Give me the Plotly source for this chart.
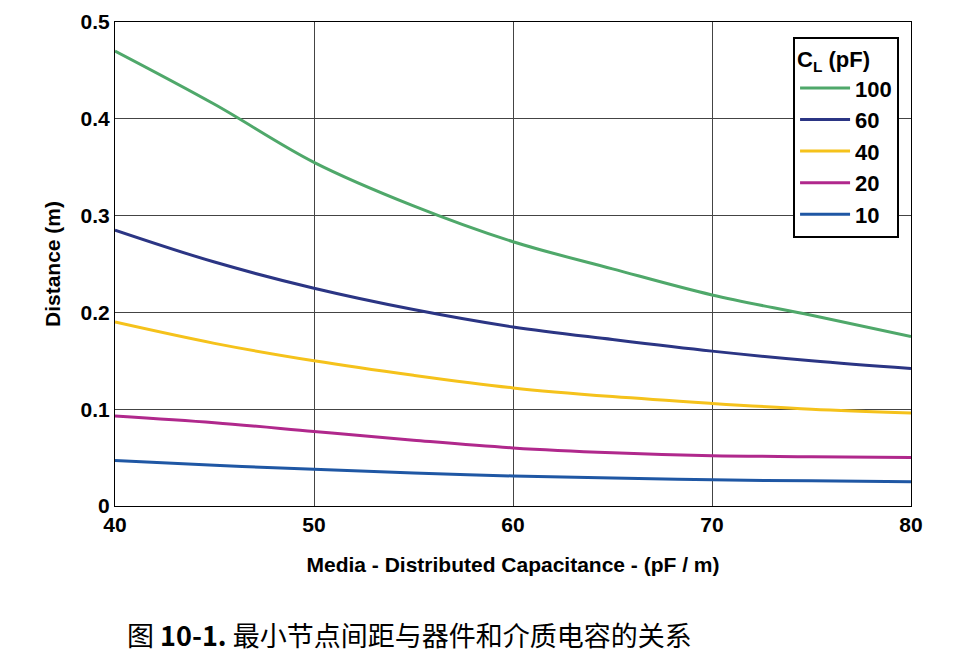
import plotly.graph_objects as go

# capacitance values along x (pF/m)
capacitance = [40, 45, 50, 55, 60, 65, 70, 75, 80]
# distance (m) for each load capacitance C_L
cl_100 = [0.470, 0.415, 0.355, 0.310, 0.273, 0.245, 0.218, 0.197, 0.175]
cl_60 = [0.285, 0.252, 0.225, 0.203, 0.185, 0.172, 0.160, 0.150, 0.142]
cl_40 = [0.190, 0.168, 0.150, 0.135, 0.122, 0.113, 0.106, 0.100, 0.096]
cl_20 = [0.093, 0.086, 0.077, 0.068, 0.060, 0.055, 0.052, 0.051, 0.050]
cl_10 = [0.047, 0.042, 0.038, 0.034, 0.031, 0.029, 0.027, 0.026, 0.025]

series = [("100", cl_100, "#4fa86a"), ("60", cl_60, "#2b3584"),
          ("40", cl_40, "#f5c21b"), ("20", cl_20, "#b0288c"),
          ("10", cl_10, "#1f57a4")]

fig = go.Figure()
for name, vals, col in series:
    fig.add_trace(go.Scatter(x=capacitance, y=vals, name="<b>" + name + "</b>", mode="lines",
                             line=dict(color=col, width=3, shape="spline")))

font = dict(family="Liberation Sans, Arial", size=21, color="black")
fig.update_layout(
    width=955, height=651, plot_bgcolor="white", paper_bgcolor="white",
    margin=dict(l=107, r=52, t=14, b=153, autoexpand=False),
    font=font,
    xaxis=dict(range=[40, 80], showgrid=True, gridcolor="#444", gridwidth=1,
               showline=True, linecolor="black", linewidth=1, mirror=True,
               tickvals=[40, 50, 60, 70, 80],
               ticktext=["<b>40</b>", "<b>50</b>", "<b>60</b>", "<b>70</b>", "<b>80</b>"],
               tickfont=dict(size=21), automargin=False,
               title=dict(text="<b>Media - Distributed Capacitance - (pF / m)</b>",
                          font=dict(size=21), standoff=22)),
    yaxis=dict(range=[0, 0.5], showgrid=True, gridcolor="#444", gridwidth=1,
               showline=True, linecolor="black", linewidth=1, mirror=True,
               tickvals=[0, 0.1, 0.2, 0.3, 0.4, 0.5],
               ticktext=["<b>0</b>", "<b>0.1</b>", "<b>0.2</b>", "<b>0.3</b>", "<b>0.4</b>", "<b>0.5</b>"],
               tickfont=dict(size=21), automargin=False,
               title=dict(text="<b>Distance (m)</b>", font=dict(size=21), standoff=14)),
    legend=dict(x=0.985, y=0.97, xanchor="right", yanchor="top",
                bgcolor="white", bordercolor="black", borderwidth=2,
                tracegroupgap=0, itemwidth=50,
                title=dict(text="<b>C<sub>L</sub> (pF)</b>", font=dict(size=22)),
                font=dict(size=22, color="black")),
)
fig.add_annotation(text="图 <b>10-1.</b> 最小节点间距与器件和介质电容的关系",
                   xref="paper", yref="paper", x=0.37, y=-0.31, showarrow=False,
                   font=dict(family="Noto Sans CJK SC", size=27, color="black"))
fig.write_html("out.html")
